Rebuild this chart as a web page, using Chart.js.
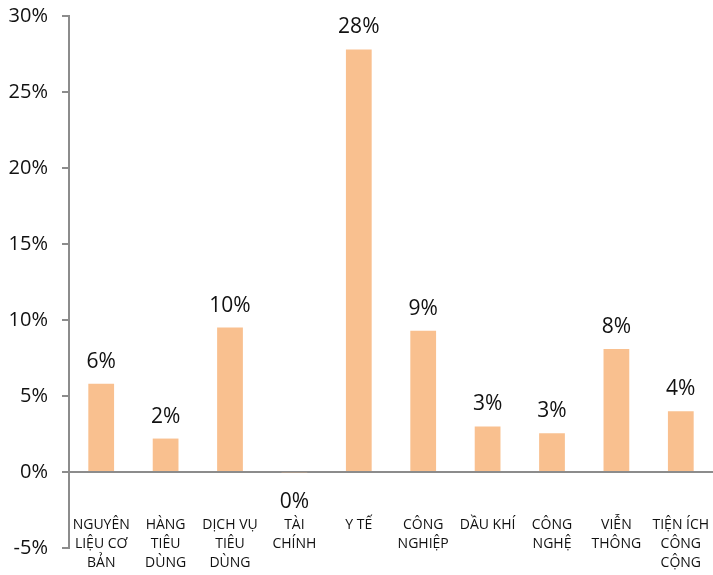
<!DOCTYPE html>
<html>
<head>
<meta charset="utf-8">
<script src="https://cdn.jsdelivr.net/npm/chart.js@4"></script>
<style>
  html, body { margin: 0; padding: 0; background: #fff; }
  canvas { display: block; }
</style>
</head>
<body>
<canvas id="sectorChart" width="713" height="575"></canvas>
<script>
// sector names, one line per array item
const categories = [
    ['NGUYÊN', 'LIỆU CƠ', 'BẢN'],
    ['HÀNG', 'TIÊU', 'DÙNG'],
    ['DỊCH VỤ', 'TIÊU', 'DÙNG'],
    ['TÀI', 'CHÍNH'],
    ['Y TẾ'],
    ['CÔNG', 'NGHIỆP'],
    ['DẦU KHÍ'],
    ['CÔNG', 'NGHỆ'],
    ['VIỄN', 'THÔNG'],
    ['TIỆN ÍCH', 'CÔNG', 'CỘNG']
];
// return by sector, in %
const sectorReturns = [5.8, 2.2, 9.5, -0.05, 27.8, 9.3, 3.0, 2.55, 8.1, 4.0];
// y axis range and tick step, in %
const yMin = -5;
const yMax = 30;
const yStep = 5;

const FONT = "'Open Sans', 'DejaVu Sans', sans-serif";
const AXIS_GREY = '#8c8c8c';
const BAR_COLOR = '#F9C08F';

// value labels above (or below, for negatives) each bar
const valueLabels = {
    id: 'valueLabels',
    afterDatasetsDraw(chart) {
        const ctx = chart.ctx;
        const meta = chart.getDatasetMeta(0);
        ctx.save();
        ctx.font = '21px ' + FONT;
        ctx.fillStyle = '#111';
        ctx.textAlign = 'center';
        ctx.textBaseline = 'alphabetic';
        meta.data.forEach((bar, i) => {
            const v = sectorReturns[i];
            const txt = Math.abs(Math.round(v)) + '%';
            const y = v >= 0 ? bar.y - 16 : bar.y + 35;
            ctx.fillText(txt, bar.x, y);
        });
        ctx.restore();
    }
};

// category names sit in the band between 0% and -5%
const categoryLabels = {
    id: 'categoryLabels',
    afterDraw(chart) {
        const ctx = chart.ctx;
        const xs = chart.scales.x;
        const ys = chart.scales.y;
        const firstLine = ys.getPixelForValue(yMin) - 23;
        ctx.save();
        ctx.font = '14px ' + FONT;
        ctx.fillStyle = '#111';
        ctx.textAlign = 'center';
        ctx.textBaseline = 'middle';
        categories.forEach((lines, i) => {
            const x = xs.getPixelForValue(i);
            lines.forEach((line, j) => ctx.fillText(line, x, firstLine + j * 19));
        });
        ctx.restore();
    }
};

new Chart(document.getElementById('sectorChart').getContext('2d'), {
    type: 'bar',
    data: {
        labels: categories,
        datasets: [{
            data: sectorReturns,
            backgroundColor: BAR_COLOR,
            barPercentage: 0.4,
            categoryPercentage: 1.0,
        }]
    },
    options: {
        responsive: false,
        animation: false,
        layout: { padding: { top: 16, bottom: 27, left: 0, right: 0 } },
        plugins: {
            legend: { display: false },
            tooltip: { enabled: false }
        },
        scales: {
            x: {
                display: false,
            },
            y: {
                min: yMin,
                max: yMax,
                afterFit: (scale) => {
                    scale.width = 69;
                    // let the layout padding alone decide top/bottom
                    scale.paddingTop = 0;
                    scale.paddingBottom = 0;
                },
                ticks: {
                    stepSize: yStep,
                    padding: 14,
                    color: '#111',
                    font: { size: 20, family: FONT },
                    callback: (v) => v + '%',
                },
                grid: {
                    drawTicks: true,
                    tickLength: 7,
                    lineWidth: 2,
                    tickWidth: 2,
                    tickColor: AXIS_GREY,
                    color: (c) => (c.tick && c.tick.value === 0 ? AXIS_GREY : 'transparent'),
                },
                border: { display: true, color: AXIS_GREY, width: 2 },
            }
        }
    },
    plugins: [valueLabels, categoryLabels]
});
</script>
</body>
</html>
